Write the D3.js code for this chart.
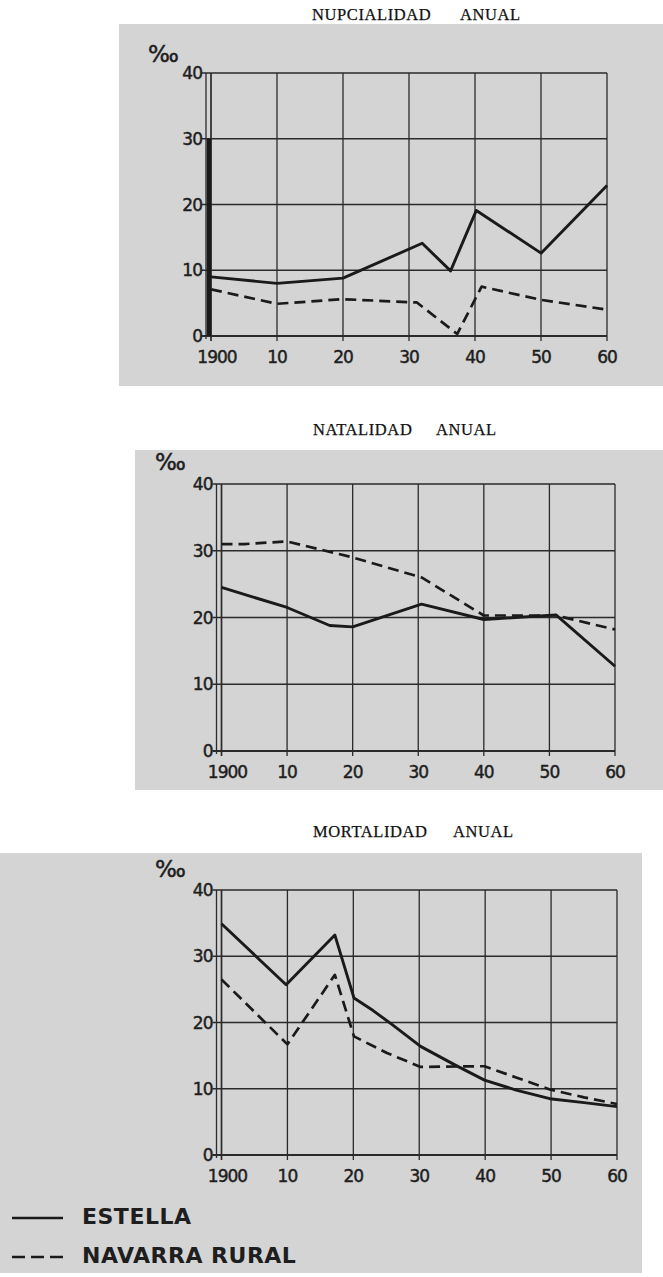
<!DOCTYPE html>
<html><head><meta charset="utf-8">
<script src="https://cdn.jsdelivr.net/npm/d3@7"></script>
<style>body{margin:0;background:#fff}svg{display:block}</style>
</head><body>
<svg id="c" width="663" height="1277"></svg>
<script>
// ---------- data ----------
const xTicks = [1900,1910,1920,1930,1940,1950,1960];
const xTickLabels = ["1900","10","20","30","40","50","60"];
const yTicks = [0,10,20,30,40];
const yTickLabels = ["0","10","20","30","40"];
const unitLabel = "‰";
const titleWords = [["NUPCIALIDAD","ANUAL"],["NATALIDAD","ANUAL"],["MORTALIDAD","ANUAL"]];
const seriesNames = ["ESTELLA","NAVARRA RURAL"];

const nupEstellaYears = [1900,1910,1920,1932,1936.3,1940.2,1950,1960];
const nupEstellaVals  = [9.0,8.0,8.8,14.1,9.9,19.1,12.6,22.9];
const nupNavarraYears = [1900,1910,1920,1931.2,1937.3,1941,1950,1960];
const nupNavarraVals  = [7.1,4.9,5.6,5.1,0.3,7.5,5.5,4.0];

const natEstellaYears = [1900,1910,1916.5,1920,1930.5,1940,1951,1960];
const natEstellaVals  = [24.5,21.5,18.8,18.6,22.0,19.7,20.4,12.7];
const natNavarraYears = [1900,1903.5,1910,1920,1930.5,1940,1951,1960];
const natNavarraVals  = [31.0,31.0,31.4,29.0,26.0,20.3,20.3,18.2];

const morEstellaYears = [1900,1909.8,1917.2,1920.1,1923,1926,1930.2,1935.4,1939.9,1944.7,1949.8,1955,1960];
const morEstellaVals  = [34.9,25.7,33.2,23.7,21.8,19.6,16.4,13.6,11.3,9.8,8.5,7.9,7.3];
const morNavarraYears = [1900,1910,1917.2,1920.1,1925.1,1930.2,1939.9,1944.7,1949.8,1955,1960];
const morNavarraVals  = [26.5,16.7,27.2,17.9,15.4,13.3,13.4,11.7,9.9,8.7,7.7];

// ---------- layout ----------
const panels = [
  {bg:[119,24,544,362], xr:[211,607], yr:[336,73], t:[312,460,20], unit:[148,62], thick:true,
   est:[nupEstellaYears,nupEstellaVals], nav:[nupNavarraYears,nupNavarraVals]},
  {bg:[135,450,528,340], xr:[221.5,615], yr:[751,484], t:[313,436,435], unit:[155,470], thick:false,
   est:[natEstellaYears,natEstellaVals], nav:[natNavarraYears,natNavarraVals]},
  {bg:[0,853,642,420], xr:[221.5,617], yr:[1155,890], t:[313,453,837], unit:[155,877], thick:false,
   est:[morEstellaYears,morEstellaVals], nav:[morNavarraYears,morNavarraVals]}
];

const svg = d3.select("#c");
const ink = "#1a1a1a", grid = "#2a2a2a";

panels.forEach((p,i)=>{
  const g = svg.append("g");
  g.append("rect").attr("x",p.bg[0]).attr("y",p.bg[1]).attr("width",p.bg[2]).attr("height",p.bg[3]).attr("fill","#d4d4d4");
  // title
  const tt = g.append("text").attr("y",p.t[2]).attr("font-family","'Liberation Serif',serif")
    .attr("font-size",16.5).attr("letter-spacing",0.6).attr("fill","#111")
    .attr("stroke","#111").attr("stroke-width",0.25);
  tt.append("tspan").attr("x",p.t[0]).text(titleWords[i][0]);
  tt.append("tspan").attr("x",p.t[1]).text(titleWords[i][1]);

  const x = d3.scaleLinear().domain([1900,1960]).range(p.xr);
  const y = d3.scaleLinear().domain([0,40]).range(p.yr);
  const x0 = x(1900), x1 = x(1960), y0 = y(0), y1 = y(40);

  // grid horizontal
  g.selectAll(".h").data(yTicks).join("line")
    .attr("x1",x0-9).attr("x2",x1).attr("y1",d=>y(d)).attr("y2",d=>y(d))
    .attr("stroke",grid).attr("stroke-width",d=>d===0?1.9:1.3);
  // grid vertical
  g.selectAll(".v").data(xTicks).join("line")
    .attr("x1",d=>x(d)).attr("x2",d=>x(d)).attr("y1",y1).attr("y2",y0+5)
    .attr("stroke",grid).attr("stroke-width",d=>d===1900?1.7:1.3);
  // double left axis line
  g.append("line").attr("x1",x0-5).attr("x2",x0-5).attr("y1",y1).attr("y2",y0+3)
    .attr("stroke",grid).attr("stroke-width",1.3);
  if(p.thick){
    g.append("line").attr("x1",x0-2).attr("x2",x0-2).attr("y1",y(30)).attr("y2",y0)
      .attr("stroke",ink).attr("stroke-width",4.5);
  }
  const lblFont = "'DejaVu Sans',sans-serif";
  // y labels
  g.selectAll(".yl").data(yTicks).join("text")
    .attr("x",x0-9).attr("y",d=>y(d)).attr("dy","0.36em").attr("text-anchor","end")
    .attr("font-family",lblFont).attr("font-size",17).attr("letter-spacing",-1)
    .attr("fill","#1e1e1e").attr("stroke","#1e1e1e").attr("stroke-width",0.45)
    .text((d,j)=>yTickLabels[j]);
  // x labels
  g.selectAll(".xl").data(xTicks).join("text")
    .attr("x",(d,j)=>x(d)+(j===0?6:0)).attr("y",y0+27).attr("text-anchor","middle")
    .attr("font-family",lblFont).attr("font-size",17).attr("letter-spacing",-1)
    .attr("fill","#1e1e1e").attr("stroke","#1e1e1e").attr("stroke-width",0.45)
    .text((d,j)=>xTickLabels[j]);
  // unit
  g.append("text").attr("x",p.unit[0]).attr("y",p.unit[1])
    .attr("font-family",lblFont).attr("font-size",23).attr("fill","#1e1e1e")
    .attr("stroke","#1e1e1e").attr("stroke-width",0.5).text(unitLabel);

  const line = d3.line().x(d=>x(d[0])).y(d=>y(d[1]));
  const estPts = p.est[0].map((yr,j)=>[yr,p.est[1][j]]);
  const navPts = p.nav[0].map((yr,j)=>[yr,p.nav[1][j]]);
  g.append("path").attr("d",line(navPts)).attr("fill","none").attr("stroke",ink)
    .attr("stroke-width",2.7).attr("stroke-dasharray","11,6").attr("stroke-linejoin","round");
  g.append("path").attr("d",line(estPts)).attr("fill","none").attr("stroke",ink)
    .attr("stroke-width",2.9).attr("stroke-linejoin","round");
});

// legend
const lg = svg.append("g");
const legY = [1218,1257];
lg.selectAll(".ll").data(seriesNames).join("line")
  .attr("x1",12).attr("x2",63).attr("y1",(d,j)=>legY[j]).attr("y2",(d,j)=>legY[j])
  .attr("stroke",ink).attr("stroke-width",2.6).attr("stroke-dasharray",(d,j)=>j===0?null:"13,6");
lg.selectAll(".lt").data(seriesNames).join("text")
  .attr("x",82).attr("y",(d,j)=>legY[j]+6).attr("font-family","'DejaVu Sans',sans-serif")
  .attr("font-weight","bold").attr("font-size",22).attr("letter-spacing",0.5).attr("fill","#1e1e1e").text(d=>d);
</script>
</body></html>
